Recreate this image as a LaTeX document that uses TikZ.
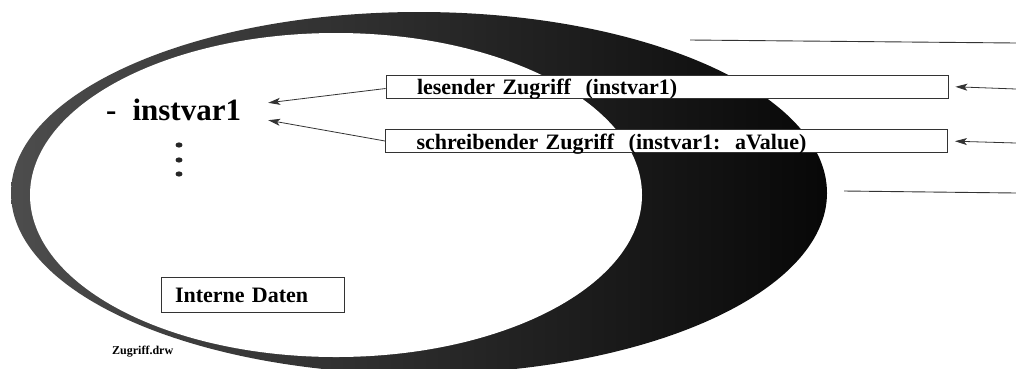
\documentclass[tikz,border=0pt]{standalone}
\usepackage{fontspec}
\setmainfont{Liberation Serif}
\usetikzlibrary{arrows.meta}
\begin{document}
\begin{tikzpicture}[x=1pt,y=-1pt,
  accbox/.style={draw=black!80, line width=0.9pt, fill=white, minimum width=562pt,
    inner xsep=0pt, inner ysep=0pt, text width=500pt, align=left,
    text height=19.5pt, text depth=3.5pt,
    font=\bfseries\fontsize{22}{24}\selectfont},
  databox/.style={draw=black!80, line width=0.9pt, fill=white, inner xsep=14pt, inner ysep=0pt,
    text width=155pt, align=left, text height=25pt, text depth=10pt,
    font=\bfseries\fontsize{22}{24}\selectfont},
  conn/.style={draw=black!80, line width=0.8pt, -{Stealth[length=12pt,width=7pt,inset=3pt]}},
  rule/.style={draw=black!80, line width=0.9pt},
  dot/.style={fill=black!85}]
\useasboundingbox (0,0) rectangle (1016,368);
\begin{scope}
  \clip (0,0) rectangle (1016,368);
  \shade[left color=black!70, middle color=black!94, right color=black!97] (419,193) ellipse [x radius=408pt, y radius=181pt];
  \fill[white] (336,195) ellipse [x radius=306pt, y radius=162pt];
\end{scope}

% instance variable
\node[anchor=base west, inner sep=0pt, text height=22pt, text depth=0pt,
      font=\bfseries\fontsize{31}{33}\selectfont] (iv) at (106,120) {-\hspace{16pt}instvar1};
\fill[dot] (179,145) ellipse [x radius=3.5pt, y radius=2.6pt];
\fill[dot] (179,160) ellipse [x radius=3.5pt, y radius=2.6pt];
\fill[dot] (179,174) ellipse [x radius=3.5pt, y radius=2.6pt];

% access boxes
\node[accbox] (b1) at (667,86.5) {lesender Zugriff\ \ (instvar1)};
\node[accbox] (b2) at (666.5,141) {schreibender Zugriff\ \ (instvar1:\ \ aValue)};

\node[databox] (daten) at (252.5,294.5) {Interne Daten};

\node[anchor=base west, inner sep=0pt, font=\bfseries\fontsize{12}{14}\selectfont] (file) at (112,354) {Zugriff.drw};

% connectors
\draw[conn] ([yshift=-2pt]b1.west) -- ([xshift=27pt,yshift=-5pt]iv.north east);
\draw[conn] (b2.west) -- ([xshift=27pt]iv.south east);

\coordinate (r1) at (1016,89);
\coordinate (r2) at (1016,143);
\draw[conn, shorten >=7pt] (r1) -- (b1.east);
\draw[conn, shorten >=7pt] (r2) -- (b2.east);

\coordinate (t1) at (690,40);
\coordinate (t2) at (1016,43);
\coordinate (u1) at (844,191);
\coordinate (u2) at (1016,193);
\draw[rule] (t1) -- (t2);
\draw[rule] (u1) -- (u2);
\end{tikzpicture}
\end{document}
